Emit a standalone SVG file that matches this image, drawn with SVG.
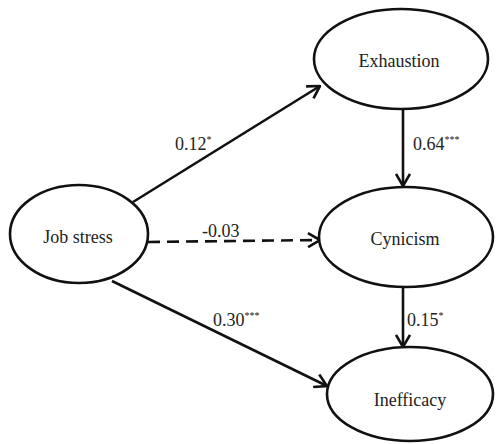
<svg xmlns="http://www.w3.org/2000/svg" width="496" height="444" viewBox="0 0 496 444">
<style>
.node ellipse{fill:#fff;stroke:#111;stroke-width:2.6}
text{font-family:'Liberation Serif','DejaVu Serif',serif;fill:#222}
.lbl{font-size:18px}
.coef{font-size:18px}
.sup{font-size:10px}
.edge{stroke:#111;stroke-width:2.6;fill:none}
</style>
<defs>
<marker id="arr" viewBox="0 0 14 16" refX="13" refY="8" markerWidth="14" markerHeight="16" markerUnits="userSpaceOnUse" orient="auto">
<path d="M1,1 L13,8 L1,15" fill="none" stroke="#111" stroke-width="2.6"/>
</marker>
</defs>
<g id="connectors">
<line class="edge" x1="133" y1="202" x2="320" y2="86" marker-end="url(#arr)"/>
<line class="edge" x1="148" y1="242" x2="320" y2="240" stroke-dasharray="12,7" marker-end="url(#arr)"/>
<line class="edge" x1="112" y1="281" x2="327" y2="386" marker-end="url(#arr)"/>
<line class="edge" x1="403" y1="108" x2="403" y2="186" marker-end="url(#arr)"/>
<line class="edge" x1="403" y1="287" x2="403" y2="347" marker-end="url(#arr)"/>
<text class="coef" font-family="Liberation Serif" x="175" y="150">0.12<tspan class="sup" dy="-7">*</tspan></text>
<text class="coef" font-family="Liberation Serif" x="202" y="237">-0.03</text>
<text class="coef" font-family="Liberation Serif" x="213" y="326">0.30<tspan class="sup" dy="-7">***</tspan></text>
<text class="coef" font-family="Liberation Serif" x="413" y="150">0.64<tspan class="sup" dy="-7">***</tspan></text>
<text class="coef" font-family="Liberation Serif" x="407" y="326">0.15<tspan class="sup" dy="-7">*</tspan></text>
</g>
<g id="job-stress" class="node">
<ellipse cx="79" cy="234" rx="69" ry="49"/>
<text class="lbl" font-family="Liberation Serif" x="78" y="243" text-anchor="middle">Job stress</text>
</g>
<g id="exhaustion" class="node">
<ellipse cx="401" cy="59" rx="87" ry="50"/>
<text class="lbl" font-family="Liberation Serif" x="399" y="67" text-anchor="middle">Exhaustion</text>
</g>
<g id="cynicism" class="node">
<ellipse cx="406" cy="237" rx="87" ry="50"/>
<text class="lbl" font-family="Liberation Serif" x="405" y="245" text-anchor="middle">Cynicism</text>
</g>
<g id="inefficacy" class="node">
<ellipse cx="410" cy="394" rx="83" ry="47"/>
<text class="lbl" font-family="Liberation Serif" x="410" y="406" text-anchor="middle">Inefficacy</text>
</g>
</svg>
